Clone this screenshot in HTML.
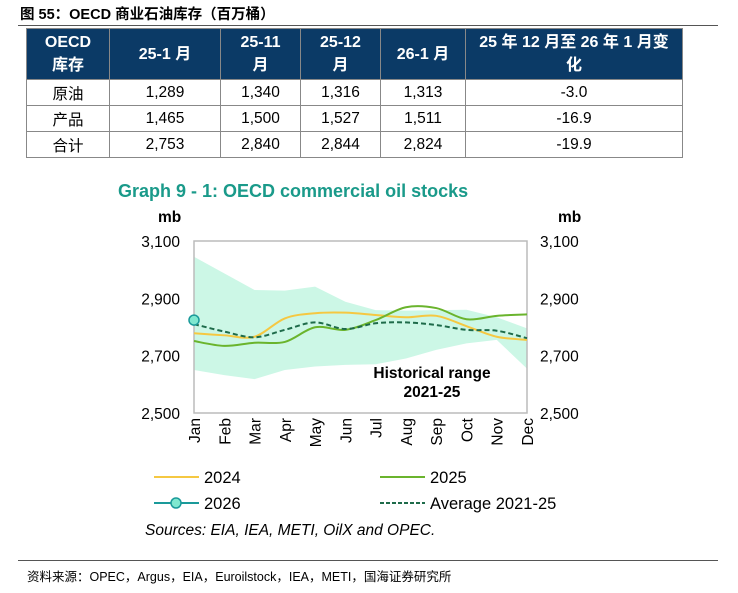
<!DOCTYPE html>
<html><head><meta charset="utf-8"><style>
body{margin:0;width:738px;height:593px;background:#fff;position:relative;overflow:hidden;font-family:"Liberation Sans","Noto Sans CJK SC",sans-serif}
.abs{position:absolute}
table{border-collapse:collapse;position:absolute;left:26px;top:28px;width:657px}
td,th{border:1px solid #888;text-align:center;font-size:15.5px;padding:0}
th{background:#0b3a66;color:#fff;font-weight:bold;height:50px;line-height:23px;font-size:16px}
td{height:25px}
</style></head><body>
<div class="abs" style="left:20px;top:3px;font-size:14.5px;font-weight:bold">图 55：OECD 商业石油库存（百万桶）</div>
<div class="abs" style="left:18px;top:25px;width:700px;height:1px;background:#555"></div>
<table>
<tr><th style="width:82px">OECD<br>库存</th><th style="width:110px">25-1 月</th><th style="width:79px">25-11<br>月</th><th style="width:79px">25-12<br>月</th><th style="width:84px">26-1 月</th><th>25 年 12 月至 26 年 1 月变<br>化</th></tr>
<tr><td>原油</td><td>1,289</td><td>1,340</td><td>1,316</td><td>1,313</td><td>-3.0</td></tr>
<tr><td>产品</td><td>1,465</td><td>1,500</td><td>1,527</td><td>1,511</td><td>-16.9</td></tr>
<tr><td>合计</td><td>2,753</td><td>2,840</td><td>2,844</td><td>2,824</td><td>-19.9</td></tr>
</table>
<svg id="chart" class="abs" style="left:0;top:0" width="738" height="593"></svg>
<div class="abs" style="left:18px;top:560px;width:700px;height:1px;background:#555"></div>
<div class="abs" style="left:27px;top:566px;font-size:12.5px">资料来源：OPEC，Argus，EIA，Euroilstock，IEA，METI，国海证券研究所</div>
<script>
const months=["Jan","Feb","Mar","Apr","May","Jun","Jul","Aug","Sep","Oct","Nov","Dec"];
const yTicks=[2500,2700,2900,3100];
const yTickLabels=["2,500","2,700","2,900","3,100"];
const rangeHigh=[3045,2987,2929,2927,2941,2888,2859,2857,2859,2860,2834,2795];
const rangeLow=[2650,2632,2618,2650,2662,2668,2670,2690,2720,2743,2755,2655];
const s2024=[2778,2771,2766,2830,2848,2850,2842,2834,2839,2803,2766,2755];
const s2025=[2751,2734,2745,2748,2799,2790,2824,2869,2866,2827,2839,2844];
const s2026=[2824];
const avg=[2810,2784,2764,2790,2816,2793,2813,2816,2807,2790,2787,2761];
const NS="http://www.w3.org/2000/svg",svg=document.getElementById('chart');
const X0=194,X1=527,Y0=241,Y1=413;
const x=i=>X0+i*(X1-X0)/11, y=v=>Y1-(v-2500)*(Y1-Y0)/600;
function mk(t,a,p){const e=document.createElementNS(NS,t);for(const k in a)e.setAttribute(k,a[k]);(p||svg).appendChild(e);return e}
function smooth(arr){let p=arr.map((v,i)=>[x(i),y(v)]);let d=`M${p[0][0]},${p[0][1]}`;
for(let i=0;i<p.length-1;i++){const a=p[i-1]||p[i],b=p[i],c=p[i+1],e=p[i+2]||c;
d+=` C${b[0]+(c[0]-a[0])/6},${b[1]+(c[1]-a[1])/6} ${c[0]-(e[0]-b[0])/6},${c[1]-(e[1]-b[1])/6} ${c[0]},${c[1]}`}return d}
let t=mk('text',{x:118,y:197,'font-size':18,'font-weight':'bold',fill:'#1a9a8a'});t.textContent="Graph 9 - 1: OECD commercial oil stocks";

let band="M"+rangeHigh.map((v,i)=>x(i)+","+y(v)).join(" L")+" L"+rangeLow.map((v,i)=>x(i)+","+y(v)).reverse().join(" L")+"Z";
let b=mk('path',{d:band,fill:'#ccf7e6'});

let fr=mk('rect',{x:X0,y:Y0,width:X1-X0,height:Y1-Y0,fill:'none',stroke:'#bbb','stroke-width':1.5});

let hr=mk('text',{x:432,y:378,'font-size':15.5,'font-weight':'bold','text-anchor':'middle'});hr.textContent="Historical range";

let hr2=mk('text',{x:432,y:397,'font-size':15.5,'font-weight':'bold','text-anchor':'middle'});hr2.textContent="2021-25";

let l1=mk('path',{d:smooth(s2024),fill:'none',stroke:'#f5c842','stroke-width':2});

let l2=mk('path',{d:smooth(s2025),fill:'none',stroke:'#6ab42d','stroke-width':2});

let l3=mk('path',{d:smooth(avg),fill:'none',stroke:'#1e6b4a','stroke-width':2,'stroke-dasharray':'5,3'});

s2026.forEach((v,i)=>{let c=mk('circle',{cx:x(i),cy:y(v),r:5,fill:'#7fe8cf',stroke:'#1a9a9a','stroke-width':1.5});
});
yTicks.forEach((v,i)=>{let a=mk('text',{x:180,y:y(v)+6,'font-size':15.5,'text-anchor':'end'});a.textContent=yTickLabels[i];

let c=mk('text',{x:540,y:y(v)+6,'font-size':15.5});c.textContent=yTickLabels[i];
});
[[158,'mb-left'],[558,'mb-right']].forEach(([px,n])=>{let m=mk('text',{x:px,y:222,'font-size':15.5,'font-weight':'bold'});m.textContent="mb";
});
months.forEach((m,i)=>{let a=mk('text',{x:0,y:0,'font-size':15.5,'text-anchor':'end',transform:`translate(${x(i)+6},418) rotate(-90)`});a.textContent=m;
});
function leg(px,py,col,dash,label,dot,n){const g=mk('g',{});

mk('line',{x1:px,y1:py,x2:px+45,y2:py,stroke:col,'stroke-width':2,'stroke-dasharray':dash||'none'},g);
if(dot)mk('circle',{cx:px+22,cy:py,r:5,fill:'#7fe8cf',stroke:col,'stroke-width':1.5},g);
let tt=mk('text',{x:px+50,y:py+6,'font-size':16.5},g);tt.textContent=label;}
leg(154,477,'#f5c842','','2024',false,'legend-2024');
leg(380,477,'#6ab42d','','2025',false,'legend-2025');
leg(154,503,'#1a9a9a','','2026',true,'legend-2026');
leg(380,503,'#1e6b4a','4,2','Average 2021-25',false,'legend-average');
let s=mk('text',{x:145,y:535,'font-size':15.5,'font-style':'italic'});s.textContent="Sources: EIA, IEA, METI, OilX and OPEC.";

</script>
</body></html>
